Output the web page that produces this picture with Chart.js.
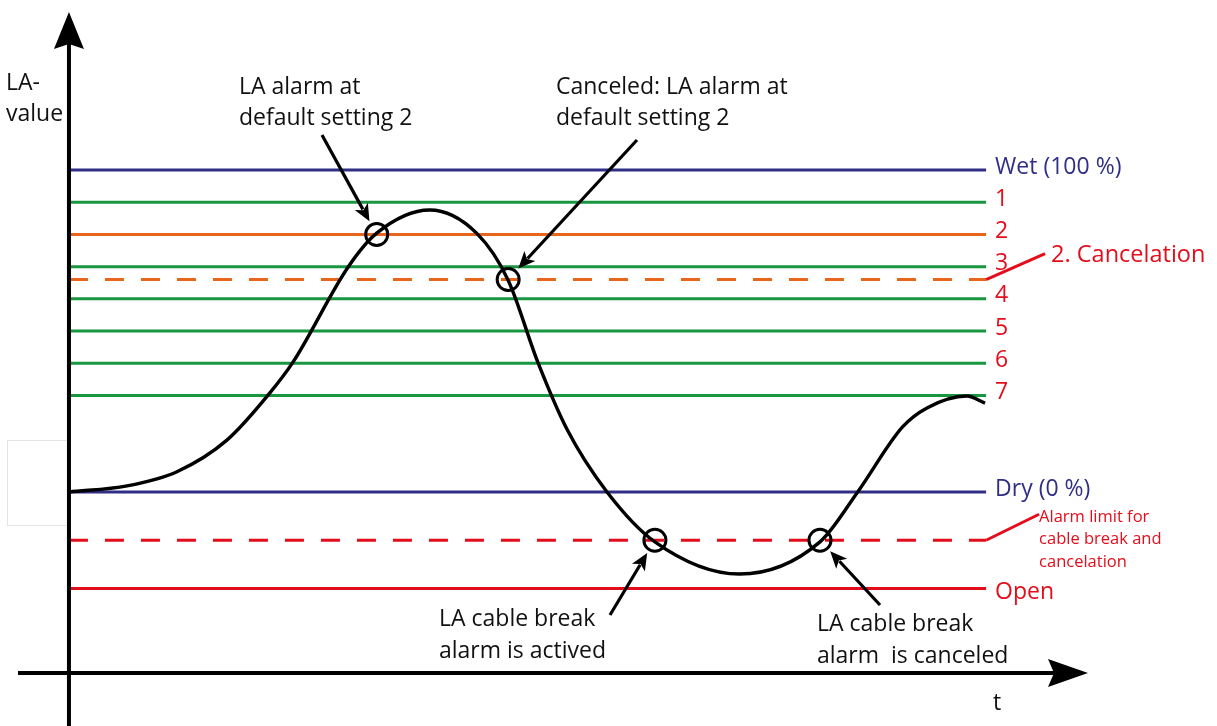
<!DOCTYPE html>
<html>
<head>
<meta charset="utf-8">
<title>LA-value</title>
<script src="https://cdn.jsdelivr.net/npm/chart.js@4.4.1/dist/chart.umd.min.js"></script>
<style>
  html, body { margin: 0; padding: 0; background: #fff; }
  #wrap { width: 1217px; height: 726px; }
</style>
</head>
<body>
<div id="wrap"><canvas id="myChart"></canvas></div>
<script>
// LA-value levels, Dry = 0, Wet = 100
var levelLabels = ['Wet (100 %)', '1', '2', '3', '2. Cancelation', '4', '5', '6', '7', 'Dry (0 %)', 'Alarm limit for\ncable break and\ncancelation', 'Open'];
var levelValues = [100, 90, 80, 70, 66, 60, 50, 40, 30, 0, -15, -30];
var levelEnd = 90;

// LA-value over time t
var curveT  = [0, 5.7, 10.6, 15.5, 19.7, 22.0, 27.4, 30.2, 35.4, 40.0, 43.1, 46.0, 48.9, 52.8, 57.5, 65.8, 73.7, 77.4, 81.8, 84.2, 88.1, 89.9];
var curveLA = [0, 1.9, 6.3, 16.1, 30.7, 40.4, 69.9, 80.4, 87.6, 80.4, 65.8, 40.4, 19.3, 0, -15.5, -25.5, -15.5, 0, 20.2, 26.1, 29.8, 27.6];

// alarm set / cancel events
var eventT  = [30.2, 43.1, 57.5, 73.7];
var eventLA = [80, 66, -15, -15];

var NAVY = '#302e85', GREEN = '#189640', ORANGE = '#e8661c', RED = '#e30d1b';
var FONT = '"Open Sans", "DejaVu Sans", sans-serif';

function levelColor(i) {
    var v = levelValues[i];
    if (v == 100 || v == 0) return NAVY;
    if (v == 80 || v == 66) return ORANGE;
    if (v < 0) return RED;
    return GREEN;
}
function labelColor(i) {
    var v = levelValues[i];
    return (v == 100 || v == 0) ? NAVY : RED;
}
function isLeader(i) {
    return levelValues[i] == 66 || levelValues[i] == -15;
}

var datasets = [];
for (var i = 0; i < levelValues.length; i++) {
    datasets.push({
        data: [{x: 0, y: levelValues[i]}, {x: levelEnd, y: levelValues[i]}],
        borderColor: levelColor(i),
        borderWidth: 3,
        borderDash: isLeader(i) ? [19, 17] : [],
        pointRadius: 0,
        order: 3
    });
}

datasets.push({
    data: curveT.map(function (t, k) { return {x: t, y: curveLA[k]}; }),
    borderColor: '#000',
    borderWidth: 3.4,
    cubicInterpolationMode: 'monotone',
    pointRadius: 0,
    order: 2
});

datasets.push({
    data: eventT.map(function (t, k) { return {x: t, y: eventLA[k]}; }),
    showLine: false,
    pointStyle: 'circle',
    pointRadius: 11,
    pointBorderWidth: 3,
    pointBorderColor: '#000',
    pointBackgroundColor: 'rgba(0,0,0,0)',
    order: 1
});

function arrow(ctx, x1, y1, x2, y2) {
    var a = Math.atan2(y2 - y1, x2 - x1);
    var len = 17, w = 7.5;
    ctx.beginPath();
    ctx.moveTo(x1, y1);
    ctx.lineTo(x2 - Math.cos(a) * len * 0.8, y2 - Math.sin(a) * len * 0.8);
    ctx.stroke();
    ctx.beginPath();
    ctx.moveTo(x2, y2);
    ctx.lineTo(x2 - Math.cos(a) * len + Math.sin(a) * w, y2 - Math.sin(a) * len - Math.cos(a) * w);
    ctx.lineTo(x2 - Math.cos(a) * len * 0.75, y2 - Math.sin(a) * len * 0.75);
    ctx.lineTo(x2 - Math.cos(a) * len - Math.sin(a) * w, y2 - Math.sin(a) * len + Math.cos(a) * w);
    ctx.closePath();
    ctx.fill();
}

// arrow from a note towards an event circle, stopping short of the ring
function pointer(ctx, sx, sy, k, xs, ys) {
    var cx = xs.getPixelForValue(eventT[k]), cy = ys.getPixelForValue(eventLA[k]);
    var d = Math.hypot(cx - sx, cy - sy);
    var r = 15;
    arrow(ctx, sx, sy, cx - (cx - sx) / d * r, cy - (cy - sy) / d * r);
}

function lines(ctx, text, x, y, lh) {
    text.split('\n').forEach(function (s, n) { ctx.fillText(s, x, y + n * lh); });
}

var decor = {
    id: 'decor',
    beforeDatasetsDraw: function (chart) {
        var ctx = chart.ctx;
        ctx.save();
        ctx.strokeStyle = '#e4e4e4';
        ctx.lineWidth = 1;
        ctx.strokeRect(7.5, 440.5, 61, 85);
        ctx.restore();
    },
    afterDatasetsDraw: function (chart) {
        var ctx = chart.ctx, xs = chart.scales.x, ys = chart.scales.y;
        var ox = xs.getPixelForValue(0), oy = ys.getPixelForValue(-56.2);
        var top = ys.getPixelForValue(ys.max), right = xs.getPixelForValue(xs.max);
        ctx.save();

        // axes with arrow heads
        ctx.strokeStyle = '#000';
        ctx.fillStyle = '#000';
        ctx.lineWidth = 4;
        ctx.beginPath();
        ctx.moveTo(ox, chart.height);
        ctx.lineTo(ox, top + 30);
        ctx.moveTo(xs.getPixelForValue(xs.min), oy);
        ctx.lineTo(right - 30, oy);
        ctx.stroke();
        ctx.beginPath();
        ctx.moveTo(ox, top);
        ctx.lineTo(ox + 15, top + 37);
        ctx.lineTo(ox, top + 32);
        ctx.lineTo(ox - 15, top + 37);
        ctx.closePath();
        ctx.fill();
        ctx.beginPath();
        ctx.moveTo(right, oy);
        ctx.lineTo(right - 40, oy + 14);
        ctx.lineTo(right - 34, oy);
        ctx.lineTo(right - 40, oy - 14);
        ctx.closePath();
        ctx.fill();

        // level labels at the right end
        var ex = xs.getPixelForValue(levelEnd);
        ctx.textBaseline = 'middle';
        ctx.textAlign = 'left';
        for (var i = 0; i < levelValues.length; i++) {
            var ly = ys.getPixelForValue(levelValues[i]);
            ctx.fillStyle = labelColor(i);
            ctx.strokeStyle = RED;
            if (isLeader(i)) {
                var big = levelValues[i] > 0;
                var lx2 = ex + (big ? 59 : 53), ly2 = ly - 26;
                ctx.lineWidth = 3;
                ctx.beginPath();
                ctx.moveTo(ex, ly);
                ctx.lineTo(lx2, ly2);
                ctx.stroke();
                if (big) {
                    ctx.font = '23.5px ' + FONT;
                    ctx.fillText(levelLabels[i], lx2 + 6, ly2 + 2);
                } else {
                    ctx.font = '16.5px ' + FONT;
                    lines(ctx, levelLabels[i], lx2, ly2 + 3, 22.5);
                }
            } else {
                ctx.font = '23px ' + FONT;
                var off = levelValues[i] == -30 ? 4 : -3;
                ctx.fillText(levelLabels[i], ex + 9, ly + off);
            }
        }

        // notes and pointers
        ctx.fillStyle = '#111';
        ctx.strokeStyle = '#000';
        ctx.lineWidth = 3.2;
        ctx.font = '23px ' + FONT;
        lines(ctx, 'LA-\nvalue', 6, 83, 31);
        lines(ctx, 'LA alarm at\ndefault setting 2', 239, 87, 31);
        lines(ctx, 'Canceled: LA alarm at\ndefault setting 2', 556, 87, 31);
        lines(ctx, 'LA cable break\nalarm is actived', 439, 619, 32);
        lines(ctx, 'LA cable break\nalarm  is canceled', 817, 624, 32);
        ctx.fillText('t', 993, 703);

        ctx.fillStyle = '#000';
        pointer(ctx, 322, 135, 0, xs, ys);
        pointer(ctx, 637, 140, 1, xs, ys);
        pointer(ctx, 610, 615, 2, xs, ys);
        pointer(ctx, 880, 605, 3, xs, ys);

        ctx.restore();
    }
};

var ctx = document.getElementById('myChart').getContext('2d');
var myChart = new Chart(ctx, {
    type: 'line',
    data: { datasets: datasets },
    options: {
        responsive: true,
        maintainAspectRatio: false,
        animation: false,
        layout: { autoPadding: false, padding: { left: 18, right: 129, top: 12, bottom: 0 } },
        scales: {
            x: { type: 'linear', min: -5, max: 100, display: false },
            y: { type: 'linear', min: -72.7, max: 149.1, display: false }
        },
        plugins: {
            legend: { display: false },
            tooltip: { enabled: false }
        }
    },
    plugins: [decor]
});
</script>
</body>
</html>
